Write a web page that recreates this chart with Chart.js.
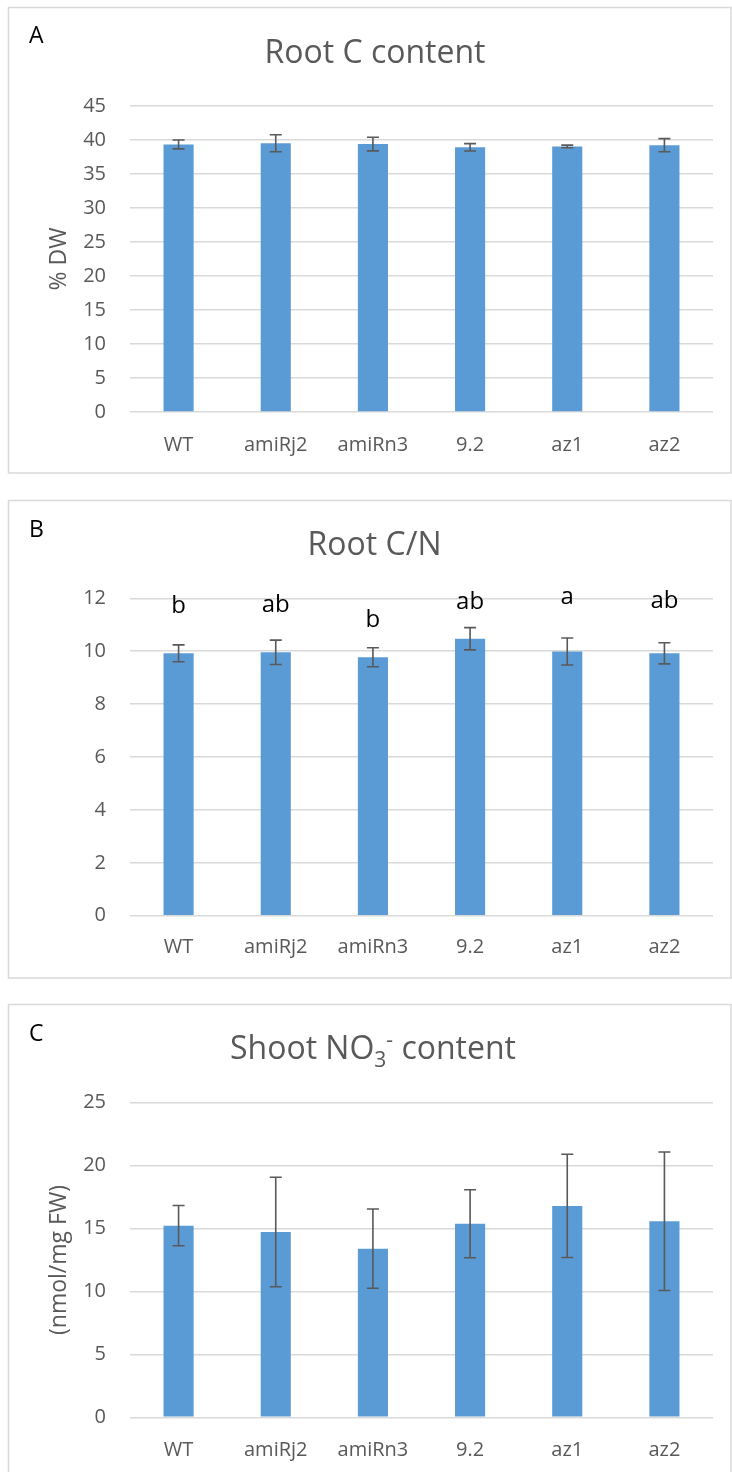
<!DOCTYPE html>
<html>
<head>
<meta charset="utf-8">
<script src="https://cdn.jsdelivr.net/npm/chart.js@4.4.0/dist/chart.umd.min.js"></script>
<style>
  html, body { margin: 0; padding: 0; background: #ffffff; }
  body { width: 732px; height: 1472px; position: relative; overflow: hidden; }
  .panel { position: absolute; left: 0; width: 732px; }
  .panel canvas { display: block; }
</style>
</head>
<body>
<div class="panel" style="top:0;height:480px"><canvas id="chartA" width="732" height="480"></canvas></div>
<div class="panel" style="top:480px;height:500px"><canvas id="chartB" width="732" height="500"></canvas></div>
<div class="panel" style="top:980px;height:492px"><canvas id="chartC" width="732" height="492"></canvas></div>
<script>
// Genotypes shown on every x axis
const genotypes = ['WT', 'amiRj2', 'amiRn3', '9.2', 'az1', 'az2'];

// A: root carbon content (% DW), mean and error
const rootC    = [39.35, 39.53, 39.40, 38.92, 39.05, 39.24];
const rootCErr = [0.65, 1.25, 1.00, 0.54, 0.20, 0.96];
const rangeA   = [0, 45, 5];

// B: root C/N ratio, mean, error and significance groups
const rootCN       = [9.92, 9.96, 9.77, 10.47, 9.99, 9.92];
const rootCNErr    = [0.32, 0.46, 0.36, 0.42, 0.51, 0.40];
const rootCNGroups = ['b', 'ab', 'b', 'ab', 'a', 'ab'];
const rootCNGroupAt = [11.46, 11.49, 10.93, 11.58, 11.79, 11.62];
const rangeB   = [0, 12, 2];

// C: shoot nitrate content (nmol/mg FW), mean and error
const shootNO3    = [15.23, 14.72, 13.40, 15.38, 16.80, 15.58];
const shootNO3Err = [1.60, 4.35, 3.15, 2.70, 4.10, 5.50];
const rangeC   = [0, 25, 5];

const FONT = "'Open Sans', 'Noto Sans', sans-serif";
const GREY = '#595959';
const BAR = '#5B9BD5';
const GRID = '#D9D9D9';

// Frame, panel letter and title (title given as runs so sub/superscripts work)
const panelHeader = {
  id: 'panelHeader',
  beforeDraw(chart, args, opts) {
    const ctx = chart.ctx;
    ctx.save();
    ctx.strokeStyle = GRID;
    ctx.lineWidth = 1.5;
    ctx.strokeRect(opts.box[0], opts.box[1], opts.box[2] - opts.box[0], opts.box[3] - opts.box[1]);

    ctx.fillStyle = '#000000';
    ctx.font = `23px ${FONT}`;
    ctx.textAlign = 'left';
    ctx.textBaseline = 'alphabetic';
    ctx.fillText(opts.letter, 29, opts.letterY);

    ctx.fillStyle = GREY;
    let total = 0;
    const runs = opts.title.map(r => {
      const size = r.size || 32;
      ctx.font = `${size}px ${FONT}`;
      const w = ctx.measureText(r.text).width;
      total += w;
      return { ...r, size, w };
    });
    let x = opts.titleX - total / 2;
    runs.forEach(r => {
      ctx.font = `${r.size}px ${FONT}`;
      ctx.fillText(r.text, x, opts.titleY + (r.shift || 0));
      x += r.w;
    });
    ctx.restore();
  }
};

// Symmetric error bars drawn from the dataset means through the y scale
const errorBars = {
  id: 'errorBars',
  afterDatasetsDraw(chart, args, opts) {
    const ctx = chart.ctx;
    const y = chart.scales.y;
    const meta = chart.getDatasetMeta(0);
    const vals = chart.data.datasets[0].data;
    ctx.save();
    ctx.strokeStyle = GREY;
    ctx.lineWidth = 1.6;
    meta.data.forEach((bar, i) => {
      const hi = y.getPixelForValue(vals[i] + opts.err[i]);
      const lo = y.getPixelForValue(vals[i] - opts.err[i]);
      const cx = bar.x;
      ctx.beginPath();
      ctx.moveTo(cx, hi); ctx.lineTo(cx, lo);
      ctx.moveTo(cx - 6, hi); ctx.lineTo(cx + 6, hi);
      ctx.moveTo(cx - 6, lo); ctx.lineTo(cx + 6, lo);
      ctx.stroke();
    });
    ctx.restore();
  }
};

// Significance letters above the bars
const groupLetters = {
  id: 'groupLetters',
  afterDatasetsDraw(chart, args, opts) {
    if (!opts.labels) return;
    const ctx = chart.ctx;
    const y = chart.scales.y;
    const meta = chart.getDatasetMeta(0);
    ctx.save();
    ctx.fillStyle = '#000000';
    ctx.font = `24px ${FONT}`;
    ctx.textAlign = 'center';
    ctx.textBaseline = 'alphabetic';
    meta.data.forEach((bar, i) => {
      ctx.fillText(opts.labels[i], bar.x, y.getPixelForValue(opts.at[i]));
    });
    ctx.restore();
  }
};

function makeChart(id, cfg) {
  return new Chart(document.getElementById(id), {
    type: 'bar',
    data: {
      labels: genotypes,
      datasets: [{
        data: cfg.values,
        backgroundColor: BAR,
        borderWidth: 0,
        barPercentage: 0.31,
        categoryPercentage: 1
      }]
    },
    options: {
      responsive: false,
      animation: false,
      devicePixelRatio: 1,
      layout: { padding: { left: 0, right: 19, top: cfg.top, bottom: 0 } },
      plugins: {
        legend: { display: false },
        tooltip: { enabled: false },
        title: { display: false },
        panelHeader: cfg.header,
        errorBars: { err: cfg.err },
        groupLetters: cfg.letters || {}
      },
      scales: {
        x: {
          grid: { display: false },
          border: { display: false },
          ticks: { color: GREY, font: { family: FONT, size: 20 }, padding: cfg.xPad },
          afterFit(s) { s.height = cfg.xHeight; }
        },
        y: {
          min: cfg.range[0],
          max: cfg.range[1],
          ticks: { stepSize: cfg.range[2], color: GREY, font: { family: FONT, size: 20 }, padding: 24 },
          grid: { color: GRID, lineWidth: 1.5, drawTicks: false },
          border: { display: false },
          title: {
            display: !!cfg.yTitle,
            text: cfg.yTitle || '',
            color: GREY,
            font: { family: FONT, size: 23 },
            padding: { top: 46 }
          },
          afterFit(s) { s.width = 130; }
        }
      }
    },
    plugins: [panelHeader, errorBars, groupLetters]
  });
}

makeChart('chartA', {
  values: rootC, err: rootCErr, range: rangeA,
  top: 106, xHeight: 68, xPad: 13, yTitle: '% DW',
  header: { box: [8.5, 7.5, 731, 473], letter: 'A', letterY: 43,
            title: [{ text: 'Root C content' }], titleX: 375, titleY: 63 }
});

makeChart('chartB', {
  values: rootCN, err: rootCNErr, range: rangeB,
  top: 118.3, xHeight: 64.3, xPad: 12,
  letters: { labels: rootCNGroups, at: rootCNGroupAt },
  header: { box: [8.5, 20.5, 731, 498], letter: 'B', letterY: 57,
            title: [{ text: 'Root C/N' }], titleX: 374.5, titleY: 75 }
});

makeChart('chartC', {
  values: shootNO3, err: shootNO3Err, range: rangeC,
  top: 122.7, xHeight: 54.7, xPad: 13, yTitle: '(nmol/mg FW)',
  header: { box: [8.5, 24.5, 731, 510], letter: 'C', letterY: 61,
            title: [
              { text: 'Shoot NO' },
              { text: '3', size: 21, shift: 8 },
              { text: '-', size: 21, shift: -12 },
              { text: ' content' }
            ], titleX: 373, titleY: 79 }
});
</script>
</body>
</html>
